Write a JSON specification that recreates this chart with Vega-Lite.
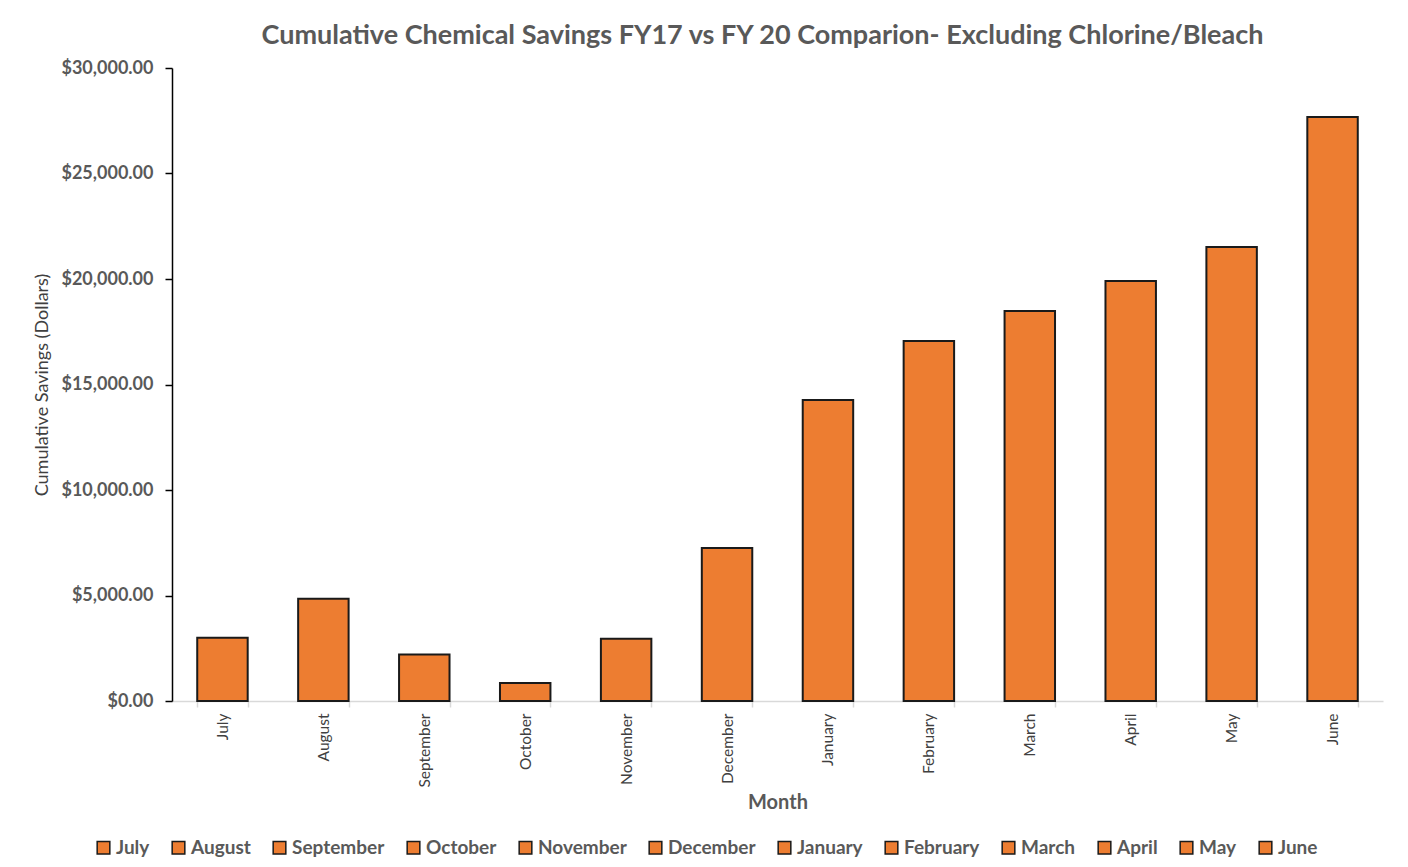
{
  "$schema": "https://vega.github.io/schema/vega-lite/v6.json",
  "width": 1211,
  "height": 633,
  "autosize": {"type": "none"},
  "padding": {"left": 172, "top": 68, "right": 25, "bottom": 166},
  "background": "white",
  "title": {
    "text": "Cumulative Chemical Savings FY17 vs FY 20 Comparion- Excluding Chlorine/Bleach",
    "font": "Lato",
    "fontSize": 27,
    "fontWeight": "bold",
    "color": "#595959",
    "anchor": "middle",
    "dx": -15,
    "offset": 9
  },
  "data": {
    "values": [
      {"Month": "July", "Savings": 3000},
      {"Month": "August", "Savings": 4850},
      {"Month": "September", "Savings": 2200},
      {"Month": "October", "Savings": 850},
      {"Month": "November", "Savings": 2950},
      {"Month": "December", "Savings": 7250},
      {"Month": "January", "Savings": 14260},
      {"Month": "February", "Savings": 17060},
      {"Month": "March", "Savings": 18480},
      {"Month": "April", "Savings": 19900},
      {"Month": "May", "Savings": 21520},
      {"Month": "June", "Savings": 27680}
    ]
  },
  "config": {
    "view": {"stroke": null},
    "font": "Lato"
  },
  "mark": {"type": "bar", "stroke": "#1a1a1a", "strokeWidth": 2},
  "encoding": {
    "x": {
      "field": "Month",
      "type": "nominal",
      "sort": null,
      "scale": {"paddingInner": 0.5, "paddingOuter": 0.25},
      "axis": {
        "title": "Month",
        "titleFont": "Lato",
        "titleFontSize": 20,
        "titleFontWeight": "bold",
        "titleColor": "#595959",
        "titlePadding": 5,
        "labelAngle": -90,
        "labelFont": "Lato",
        "labelFontSize": 15.5,
        "labelColor": "#404040",
        "labelPadding": 6,
        "domainColor": "#d9d9d9",
        "domainWidth": 1.5,
        "tickColor": "#d9d9d9",
        "tickWidth": 1.5,
        "tickBand": "extent",
        "tickSize": 6
      }
    },
    "y": {
      "field": "Savings",
      "type": "quantitative",
      "scale": {"domain": [0, 30000]},
      "axis": {
        "title": "Cumulative Savings (Dollars)",
        "titleFont": "Lato",
        "titleFontSize": 18,
        "titleFontWeight": "normal",
        "titleColor": "#404040",
        "titlePadding": 9,
        "values": [0, 5000, 10000, 15000, 20000, 25000, 30000],
        "format": "$,.2f",
        "labelFont": "Lato",
        "labelFontSize": 18,
        "labelFontWeight": "bold",
        "labelColor": "#595959",
        "labelPadding": 12,
        "grid": false,
        "domainColor": "black",
        "domainWidth": 1.5,
        "tickColor": "black",
        "tickWidth": 1.5,
        "tickSize": 7
      }
    },
    "fill": {
      "field": "Month",
      "type": "nominal",
      "sort": null,
      "scale": {
        "domain": ["July", "August", "September", "October", "November", "December", "January", "February", "March", "April", "May", "June"],
        "range": ["#ED7D31", "#ED7D31", "#ED7D31", "#ED7D31", "#ED7D31", "#ED7D31", "#ED7D31", "#ED7D31", "#ED7D31", "#ED7D31", "#ED7D31", "#ED7D31"]
      },
      "legend": {
        "title": null,
        "orient": "none",
        "direction": "horizontal",
        "legendX": -78,
        "legendY": 770,
        "symbolType": "square",
        "symbolSize": 160,
        "symbolStrokeColor": "#1a1a1a",
        "symbolStrokeWidth": 1.5,
        "labelFont": "Lato",
        "labelFontSize": 19,
        "labelFontWeight": "bold",
        "labelColor": "#595959",
        "labelOffset": 3,
        "columnPadding": 19,
        "columns": 12
      }
    }
  }
}
